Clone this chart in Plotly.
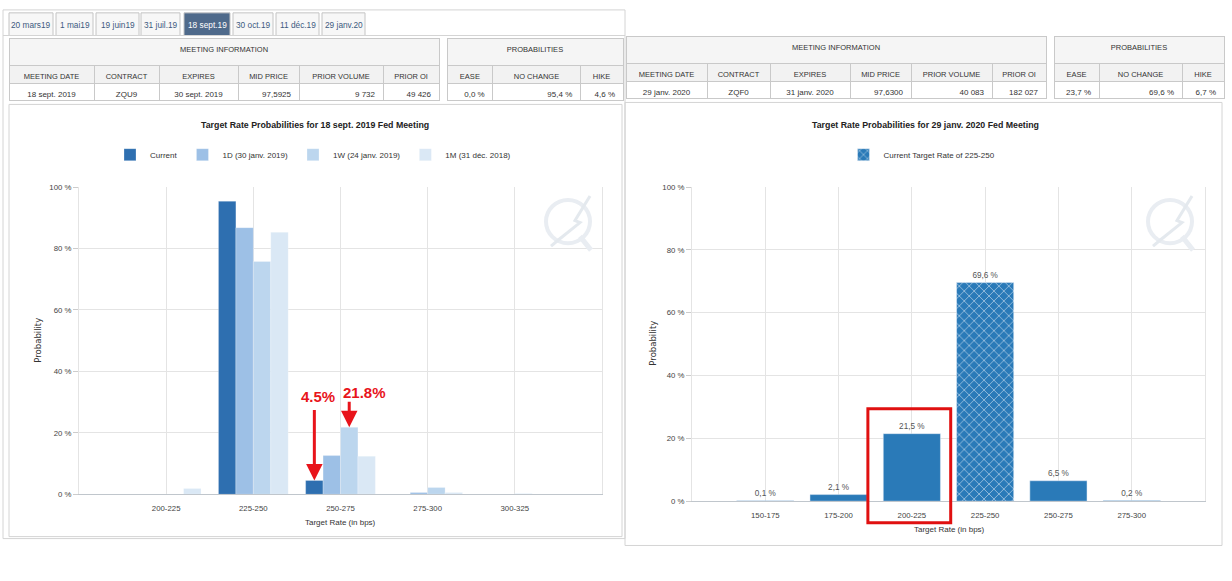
import plotly.graph_objects as go

W, H = 1232, 581


def px(x):
    return x / W


def py(y):
    return 1 - y / H


# ---- data ----
tab_labels = ["20 mars19", "1 mai19", "19 juin19", "31 juil.19", "18 sept.19",
              "30 oct.19", "11 déc.19", "29 janv.20"]
tab_selected = "18 sept.19"

meeting_cols = ["MEETING DATE", "CONTRACT", "EXPIRES", "MID PRICE", "PRIOR VOLUME", "PRIOR OI"]
prob_cols = ["EASE", "NO CHANGE", "HIKE"]

left_meeting = ["18 sept. 2019", "ZQU9", "30 sept. 2019", "97,5925", "9 732", "49 426"]
left_prob = ["0,0 %", "95,4 %", "4,6 %"]
right_meeting = ["29 janv. 2020", "ZQF0", "31 janv. 2020", "97,6300", "40 083", "182 027"]
right_prob = ["23,7 %", "69,6 %", "6,7 %"]

left_cats = ["200-225", "225-250", "250-275", "275-300", "300-325"]
left_current = [0, 95.4, 4.5, 0, 0]
left_1d = [0, 86.8, 12.6, 0.6, 0]
left_1w = [0, 75.8, 21.8, 2.2, 0.2]
left_1m = [1.9, 85.3, 12.4, 0.6, 0]

right_cats = ["150-175", "175-200", "200-225", "225-250", "250-275", "275-300"]
right_probs = [0.1, 2.1, 21.5, 69.6, 6.5, 0.2]
right_current = "225-250"
right_highlight = "200-225"

FONT = "Liberation Sans, Arial, sans-serif"
GRID = "#e4e4e4"
BORDER = "#d4d4d4"
TXT = "#333333"
CLEAR = "rgba(0,0,0,0)"

fig = go.Figure()

# ---- left chart bars ----
left_series = [
    ("Current", left_current, "#2e6fb0"),
    ("1D (30 janv. 2019)", left_1d, "#9dc0e6"),
    ("1W (24 janv. 2019)", left_1w, "#bcd6ee"),
    ("1M (31 déc. 2018)", left_1m, "#dae8f5"),
]
for name, vals, col in left_series:
    fig.add_trace(go.Bar(
        x=list(range(len(left_cats))), y=vals, name=name,
        marker=dict(color=col, line=dict(color="rgba(255,255,255,0.5)", width=0.5)),
        xaxis="x", yaxis="y", legend="legend",
    ))

# ---- right chart bars ----
cur_i = right_cats.index(right_current)
plain_x = [i for i in range(len(right_cats)) if i != cur_i]
fig.add_trace(go.Bar(
    x=plain_x, y=[right_probs[i] for i in plain_x], width=0.78, offset=-0.39,
    marker=dict(color="#2a7ab8"), showlegend=False,
    texttemplate="%{y:.1f} %", textposition="outside", cliponaxis=False,
    textfont=dict(family=FONT, size=8.2, color="#555"),
    xaxis="x2", yaxis="y2",
))
fig.add_trace(go.Bar(
    x=[cur_i], y=[right_probs[cur_i]], width=0.78, offset=-0.39,
    name="Current Target Rate of 225-250",
    marker=dict(color="#2a7ab8",
                pattern=dict(shape="x", fgcolor="white", bgcolor="#2a7ab8", size=7, solidity=0.25)),
    texttemplate="%{y:.1f} %", textposition="outside", cliponaxis=False,
    textfont=dict(family=FONT, size=8.2, color="#555"),
    xaxis="x2", yaxis="y2", legend="legend2",
))


# ---- tables ----
LINE = dict(color="#c9c9c9", width=1)


def nb(s):
    # keep "23,7 %" and "9 732" on one line inside narrow cells
    return s.replace(" ", "\u00a0")


def add_table(x0, x1, y0, cols, row, widths, aligns):
    fig.add_trace(go.Table(
        domain=dict(x=[px(x0), px(x1)], y=[py(y0 + 38), py(y0)]),
        columnwidth=widths,
        header=dict(values=cols, height=18, fill_color="#f2f2f2", line=LINE,
                    font=dict(family=FONT, size=7.5, color=TXT), align="center"),
        cells=dict(values=[[nb(v)] for v in row], height=17, fill_color="white", line=LINE,
                   font=dict(family=FONT, size=8, color=TXT), align=aligns),
    ))


def add_band(x0, x1, y0, label):
    fig.add_trace(go.Table(
        domain=dict(x=[px(x0), px(x1)], y=[py(y0 + 29), py(y0)]),
        header=dict(values=[label], height=27, fill_color="#f5f5f5", line=LINE,
                    font=dict(family=FONT, size=7.5, color=TXT), align="center"),
        cells=dict(values=[[]]),
    ))


m_align = ["center", "center", "center", "right", "right", "right"]
add_band(9, 439, 35, "MEETING INFORMATION")
add_table(9, 439, 62, meeting_cols, left_meeting, [85, 65, 79, 61, 84, 56], m_align)
add_band(447, 623, 35, "PROBABILITIES")
add_table(447, 623, 62, prob_cols, left_prob, [46, 88, 43], "right")

add_band(626, 1046, 33, "MEETING INFORMATION")
add_table(626, 1046, 60, meeting_cols, right_meeting, [81, 63, 80, 61, 81, 54], m_align)
add_band(1054, 1224, 33, "PROBABILITIES")
add_table(1054, 1224, 60, prob_cols, right_prob, [45, 83, 42], "right")

# ---- frames, tabs, logo ----
shapes = []
ann = []


def rect(x0, y0, x1, y1, line=BORDER, fill=CLEAR, width=1):
    shapes.append(dict(type="rect", xref="paper", yref="paper",
                       x0=px(x0), x1=px(x1), y0=py(y1), y1=py(y0),
                       line=dict(color=line, width=width), fillcolor=fill, layer="below"))


def label(x, y, text, size, color=TXT, angle=0, family=FONT):
    ann.append(dict(x=px(x), y=py(y), xref="paper", yref="paper", text=text,
                    showarrow=False, xanchor="center", yanchor="middle", textangle=angle,
                    font=dict(family=family, size=size, color=color)))


rect(3, 6, 625, 543)
shapes.append(dict(type="line", xref="paper", yref="paper", x0=px(3), x1=px(625),
                   y0=py(32), y1=py(32), line=dict(color=BORDER, width=1)))
rect(9, 102, 622, 541)
rect(625, 100, 1222, 550)

tab_edges = [(9, 53), (56, 93), (96, 139), (141, 180), (184, 230), (233, 273), (276, 319), (322, 365)]
for lab, (tx0, tx1) in zip(tab_labels, tab_edges):
    sel = lab == tab_selected
    rect(tx0, 9, tx1, 32, line="#c4c4c4", fill="#4f6a8b" if sel else "#f7f7f7")
    label((tx0 + tx1) / 2, 21, lab, 8.3, "white" if sel else "#3d5a80")

for cx in (568, 1170):
    shapes.append(dict(type="circle", xref="paper", yref="paper",
                       x0=px(cx - 22), x1=px(cx + 22), y0=py(243), y1=py(199),
                       line=dict(color="#e9edf2", width=4)))
    pts = [(cx + 22, 195), (cx + 7, 220), (cx + 12, 222), (cx - 10, 240), (cx - 17, 246)]
    path = "M " + " L ".join(f"{px(a)},{py(b)}" for a, b in pts)
    shapes.append(dict(type="path", xref="paper", yref="paper", path=path,
                       line=dict(color="#e4e9ee", width=3)))
    shapes.append(dict(type="line", xref="paper", yref="paper",
                       x0=px(cx + 12), x1=px(cx + 23), y0=py(236), y1=py(250),
                       line=dict(color="#e9edf2", width=5)))

# highlight box around 200-225 on the right chart
hi = right_cats.index(right_highlight)
shapes.append(dict(type="rect", xref="x2", yref="paper", x0=hi - 0.6, x1=hi + 0.53,
                   y0=py(527), y1=py(411), line=dict(color="#e01010", width=3)))

# titles and axis titles
label(315, 123, "<b>Target Rate Probabilities for 18 sept. 2019 Fed Meeting</b>", 8.8, "#222")
label(925, 123, "<b>Target Rate Probabilities for 29 janv. 2020 Fed Meeting</b>", 8.8, "#222")
label(38, 342, "Probability", 8.5, angle=-90, family="DejaVu Sans, sans-serif")
label(653, 345, "Probability", 8.5, angle=-90, family="DejaVu Sans, sans-serif")
label(340, 527, "Target Rate (in bps)", 8)
label(949, 534, "Target Rate (in bps)", 8)

# red arrows on the left chart
RED = "#e8141b"
i250 = left_cats.index("250-275")
for xv, yv, ay, txt, xs, ys in ((i250 - 0.3, left_current[i250], -72, "4.5%", 4, 84),
                                (i250 + 0.1, left_1w[i250], -27, "21.8%", 15, 35)):
    ann.append(dict(x=xv, y=yv, xref="x", yref="y", text="", showarrow=True,
                    ax=0, ay=ay, arrowhead=2, arrowsize=1.1, arrowwidth=3, arrowcolor=RED))
    ann.append(dict(x=xv, y=yv, xref="x", yref="y", text=f"<b>{txt}</b>", showarrow=False,
                    xshift=xs, yshift=ys, xanchor="center", yanchor="middle",
                    font=dict(family=FONT, size=15, color=RED)))

axis_common = dict(showgrid=True, gridcolor=GRID, zeroline=False,
                   tickfont=dict(family=FONT, size=7.8, color="#444"))

fig.update_layout(
    width=W, height=H, margin=dict(l=0, r=0, t=0, b=0),
    paper_bgcolor="white", plot_bgcolor="white",
    separators=", ",
    barmode="group", bargap=0.2, bargroupgap=0,
    showlegend=True,
    xaxis=dict(domain=[px(79), px(602)], range=[-1, 5], anchor="y",
               tickvals=list(range(len(left_cats))), ticktext=left_cats,
               showline=True, linecolor="#c0c6cc", ticks="outside", ticklen=6,
               tickcolor=CLEAR, **axis_common),
    yaxis=dict(domain=[py(498), py(186)], range=[0, 100], dtick=20, anchor="x",
               ticksuffix=" %", showline=True, mirror=True, linecolor=GRID,
               ticks="outside", ticklen=5, tickcolor="#cccccc", **axis_common),
    xaxis2=dict(domain=[px(692), px(1205)], range=[-1, 6], anchor="y2",
                tickvals=list(range(len(right_cats))), ticktext=right_cats,
                showline=True, linecolor="#c0c6cc", ticks="outside", ticklen=6,
                tickcolor=CLEAR, **axis_common),
    yaxis2=dict(domain=[py(505), py(186)], range=[0, 100], dtick=20, anchor="x2",
                ticksuffix=" %", showline=True, mirror=True, linecolor=GRID,
                ticks="outside", ticklen=5, tickcolor="#cccccc", **axis_common),
    legend=dict(orientation="h", x=px(313), y=py(153), xanchor="center", yanchor="middle",
                bgcolor=CLEAR, font=dict(family=FONT, size=8, color=TXT), itemclick=False),
    legend2=dict(orientation="h", x=px(922), y=py(153), xanchor="center", yanchor="middle",
                 bgcolor=CLEAR, font=dict(family=FONT, size=8, color=TXT), itemclick=False),
    shapes=shapes,
    annotations=ann,
)

fig.write_html("out.html", config={"displayModeBar": False},
               post_script="document.body.style.margin='0';")
